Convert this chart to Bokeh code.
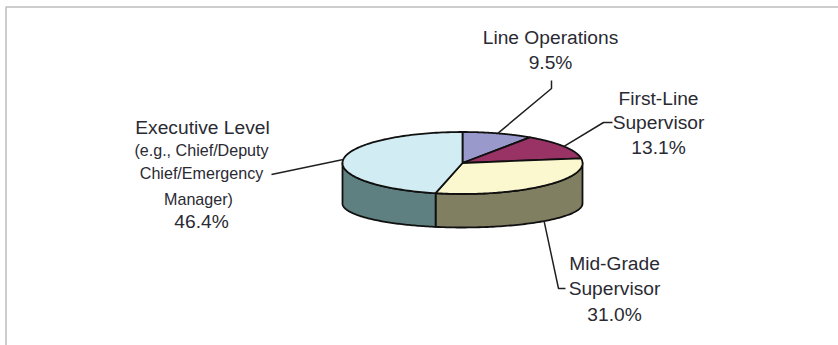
import numpy as np
from bokeh.core.properties import value
from bokeh.embed import file_html
from bokeh.models import ColumnDataSource
from bokeh.plotting import figure
from bokeh.resources import INLINE

# Share of responses by position, clockwise from twelve o'clock
categories = ["Line Operations", "First-Line Supervisor", "Mid-Grade Supervisor", "Executive Level"]
shares = [9.5, 13.1, 31.0, 46.4]
top_colors = ["#9999CC", "#993366", "#FBF8CF", "#D2ECF3"]
wall_colors = ["#66668A", "#662244", "#807F62", "#5F8080"]

# Pie geometry in page pixels
CX, TOP_Y, BOTTOM_Y = 462, 162.5, 203
RX, TOP_RY, BOTTOM_RY = 120, 31, 24
FONT = value("Liberation Sans")
INK = "#2A2A33"


def rim(t, cy, ry):
    return CX + RX * np.sin(t), cy - ry * np.cos(t)


p = figure(width=838, height=345, x_range=(0, 838), y_range=(345, 0),
           output_backend="svg", toolbar_location=None, min_border=0)
p.axis.visible = False
p.grid.visible = False
p.outline_line_color = None
p.background_fill_color = "white"

# Frame along the top and left of the page
p.line([5.5, 5.5, 838], [345, 6.5, 6.5], line_color="#BDBDBD", line_width=1.5)

edges = np.radians(np.cumsum([0] + shares) * 3.6)
starts, ends = edges[:-1], edges[1:]

# Side wall: only the part of each slice on the near half of the rim shows
for a, b, color in zip(starts, ends, wall_colors):
    lo, hi = max(a, np.pi / 2), min(b, 3 * np.pi / 2)
    if lo >= hi:
        continue
    t = np.linspace(lo, hi, 80)
    xt, yt = rim(t, TOP_Y, TOP_RY)
    xb, yb = rim(t[::-1], BOTTOM_Y, BOTTOM_RY)
    p.patch(np.r_[xt, xb], np.r_[yt, yb], fill_color=color,
            line_color="#101010", line_width=1.8, line_join="round")

# Top face
for a, b, color in zip(starts, ends, top_colors):
    t = np.linspace(a, b, 120)
    x, y = rim(t, TOP_Y, TOP_RY)
    p.patch(np.r_[CX, x], np.r_[TOP_Y, y], fill_color=color,
            line_color="#101010", line_width=1.8, line_join="round")

# Leader lines start on the rim at each slice's middle angle
mids = (starts + ends) / 2
elbows = [
    ([551, 551], [88, 80]),
    ([603, 612], [122, 122]),
    ([558, 565], [288, 288]),
    ([271], [174]),
]
for i, (mid, (ex, ey)) in enumerate(zip(mids, elbows)):
    on_wall = np.pi / 2 < mid < 3 * np.pi / 2
    x0, y0 = rim(mid, BOTTOM_Y, BOTTOM_RY) if on_wall else rim(mid, TOP_Y, TOP_RY)
    p.line([x0] + ex, [y0] + ey, line_color="#202020", line_width=1.5)

# Labels: text, centre x, centre y, size
label_text = ["Line Operations", "9.5%",
              "First-Line", "Supervisor", "13.1%",
              "Mid-Grade", "Supervisor", "31.0%",
              "Executive Level", "(e.g., Chief/Deputy", "Chief/Emergency", "Manager)", "46.4%"]
label_x = [550, 550, 658, 658, 658, 614, 614, 614, 202, 201, 201, 198, 201]
label_y = [37, 62, 98, 122, 147, 263, 288, 314, 127, 149, 172, 198, 221]
label_size = ["19.2px"] * 9 + ["16.1px"] * 3 + ["19.2px"]

p.text("x", "y", text="t", text_font_size="s", source=ColumnDataSource(
    dict(x=label_x, y=label_y, t=label_text, s=label_size)),
    text_font=FONT, text_color=INK, text_align="center", text_baseline="middle")

open("out.html", "w").write(file_html(p, INLINE))
